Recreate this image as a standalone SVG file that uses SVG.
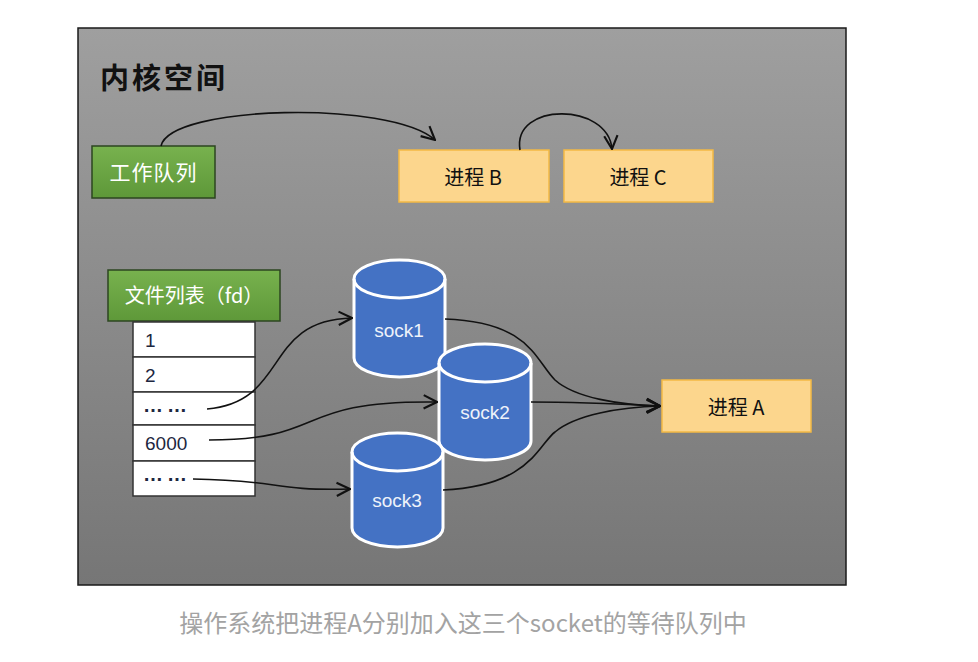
<svg xmlns="http://www.w3.org/2000/svg" width="978" height="662" viewBox="0 0 978 662">
<defs>
<linearGradient id="bg" x1="0" y1="0" x2="0" y2="1">
<stop offset="0" stop-color="#9f9f9f"/>
<stop offset="1" stop-color="#767676"/>
</linearGradient>
<linearGradient id="gr" x1="0" y1="0" x2="0" y2="1">
<stop offset="0" stop-color="#78b24e"/>
<stop offset="1" stop-color="#5e9839"/>
</linearGradient>
<marker id="arr" markerUnits="userSpaceOnUse" markerWidth="16" markerHeight="16" viewBox="0 0 12 12" refX="11" refY="6" orient="auto">
<path d="M1,1 L11,6 L1,11" fill="none" stroke="#111" stroke-width="1.6"/>
</marker>
<style>
.cjk{font-family:"Noto Sans CJK SC","Liberation Sans",sans-serif}
.lat{font-family:"Liberation Sans","Noto Sans CJK SC",sans-serif}
.green{fill:url(#gr);stroke:#2c4620;stroke-width:1.5}
.proc{fill:#fcd68d;stroke:#f3b944;stroke-width:1.5}
.cyl{fill:#4472c4;stroke:#ffffff;stroke-width:3}
.conn{fill:none;stroke:#111;stroke-width:1.6}
.row{fill:#fff;stroke:#333;stroke-width:1.5}
.num{fill:#1d2740;font-size:19px}
.dots{fill:#1d2740;font-size:20px;font-weight:bold;letter-spacing:4px}
.sock{fill:#eef2fa;font-size:19px}
.ptxt{fill:#111;font-size:20px}
</style>
</defs>
<rect x="78" y="28" width="768" height="557" fill="url(#bg)" stroke="#1a1a1a" stroke-width="1.5"/>
<text x="100" y="89" class="cjk" font-size="29" font-weight="bold" letter-spacing="3" fill="#111">内核空间</text>

<g id="workqueue">
<rect x="92" y="146" width="123" height="52" class="green"/>
<text x="153.5" y="171" class="cjk" font-size="21" letter-spacing="1" fill="#fff" text-anchor="middle" dominant-baseline="central">工作队列</text>
</g>
<g id="procB">
<rect x="399" y="150" width="150" height="52" class="proc"/>
<text x="473" y="176" class="cjk ptxt" text-anchor="middle" dominant-baseline="central">进程 B</text>
</g>
<g id="procC">
<rect x="564" y="150" width="149" height="52" class="proc"/>
<text x="638" y="176" class="cjk ptxt" text-anchor="middle" dominant-baseline="central">进程 C</text>
</g>
<g id="procA">
<rect x="662" y="380" width="149" height="52" class="proc"/>
<text x="736" y="406" class="cjk ptxt" text-anchor="middle" dominant-baseline="central">进程 A</text>
</g>

<g id="filelist">
<rect x="108" y="270" width="172" height="51" class="green"/>
<text x="194" y="294" class="cjk" font-size="20" fill="#fff" text-anchor="middle" dominant-baseline="central">文件列表（fd）</text>
<rect x="133" y="322" width="122" height="35" class="row"/>
<rect x="133" y="357" width="122" height="35" class="row"/>
<rect x="133" y="392" width="122" height="33" class="row"/>
<rect x="133" y="425" width="122" height="36" class="row"/>
<rect x="133" y="461" width="122" height="35" class="row"/>
<text x="145" y="340" class="lat num" dominant-baseline="central">1</text>
<text x="145" y="375" class="lat num" dominant-baseline="central">2</text>
<text x="143" y="405" class="lat dots" dominant-baseline="central">……</text>
<text x="145" y="443" class="lat num" dominant-baseline="central">6000</text>
<text x="143" y="474" class="lat dots" dominant-baseline="central">……</text>
</g>

<g id="sock1">
<path d="M354,279 L354,358 A45.5,19 0 0 0 445,358 L445,279 A45.5,19 0 0 0 354,279 Z" class="cyl"/>
<path d="M354,279 A45.5,19 0 0 0 445,279" fill="none" stroke="#fff" stroke-width="3"/>
<text x="399" y="330" class="lat sock" text-anchor="middle" dominant-baseline="central">sock1</text>
</g>
<g id="sock2">
<path d="M439,363 L439,441 A46,19 0 0 0 531,441 L531,363 A46,19 0 0 0 439,363 Z" class="cyl"/>
<path d="M439,363 A46,19 0 0 0 531,363" fill="none" stroke="#fff" stroke-width="3"/>
<text x="485" y="412" class="lat sock" text-anchor="middle" dominant-baseline="central">sock2</text>
</g>
<g id="sock3">
<path d="M352,452 L352,528 A45.5,19 0 0 0 443,528 L443,452 A45.5,19 0 0 0 352,452 Z" class="cyl"/>
<path d="M352,452 A45.5,19 0 0 0 443,452" fill="none" stroke="#fff" stroke-width="3"/>
<text x="397" y="500" class="lat sock" text-anchor="middle" dominant-baseline="central">sock3</text>
</g>

<g id="connectors">
<path d="M161,146 C170,105 390,100 435,140" class="conn" marker-end="url(#arr)"/>
<path d="M520,150 C512,102 608,102 612,149" class="conn" marker-end="url(#arr)"/>
<path d="M207,409 C290,402 262,320 352,318" class="conn" marker-end="url(#arr)"/>
<path d="M209,440 C330,440 290,400 437,402" class="conn" marker-end="url(#arr)"/>
<path d="M193,479 C280,480 270,491 350,489" class="conn" marker-end="url(#arr)"/>
<path d="M445,319 C530,322 535,360 555,380 C575,398 620,405 660,406" class="conn" marker-end="url(#arr)"/>
<path d="M531,402 C580,402 620,404 660,406" class="conn" marker-end="url(#arr)"/>
<path d="M443,490 C530,486 538,445 555,432 C575,415 620,407 660,406" class="conn" marker-end="url(#arr)"/>
</g>

<text x="463" y="621" class="cjk" font-size="24" fill="#a3a3a3" text-anchor="middle" dominant-baseline="central">操作系统把进程A分别加入这三个socket的等待队列中</text>
</svg>
